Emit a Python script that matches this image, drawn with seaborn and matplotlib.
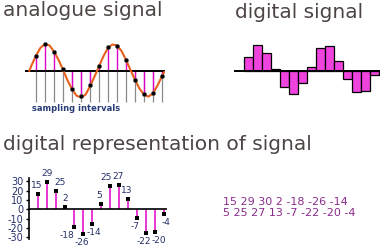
import matplotlib
matplotlib.use("Agg")
import matplotlib.pyplot as plt
import seaborn as sns
import numpy as np

# ---------------- data ----------------
sample_index = list(range(15))
# sampled heights of the analogue wave (dots / stems)
sample_values = [16, 29, 20, 2, -19.5, -27, -15.5, 5.5, 25.5, 26.5, 11.5, -9.5, -25, -24, -5.5]
# heights of the digital signal bars
bar_values = [15.5, 29, 20, 2, -18.5, -26, -14, 4, 25.5, 28, 11, -9.5, -24, -22, -4]
# labels written next to the stems
stem_labels = [15, 29, 25, 2, -18, -26, -14, 5, 25, 27, 13, -7, -22, -20, -4]
# code list printed on the right
code_values = [15, 29, 30, 2, -18, -26, -14, 5, 25, 27, 13, -7, -22, -20, -4]
# analogue curve (position in sample units, height)
curve_t = [-0.75, -0.5, 0, 0.5, 1, 1.5, 2, 2.5, 3, 3.5, 4, 4.5, 5, 5.5, 6, 6.5,
           7, 7.5, 8, 8.5, 9, 9.5, 10, 10.5, 11, 11.5, 12, 12.5, 13, 13.5, 14, 14.25]
curve_y = [0, 6, 16.5, 25, 29, 27.5, 21, 12, 1.5, -10, -19.5, -26.5, -28.5, -25.5, -16.5, -6,
           5, 16, 25, 28.5, 27.5, 21.5, 12, 1, -9.5, -19, -25.5, -27.5, -24, -15.5, -5.5, -1]
y_ticks = [-30, -20, -10, 0, 10, 20, 30]

# layout: horizontal nudges (pixels) of the stem labels
label_dx_px = [-2, 0, 3.5, 0, -7, -1, 2, -2, -4, -1, -1.6, -2.3, -2.5, 3.5, 1.4]

# ---------------- style ----------------
sns.set_style("white")
plt.rcParams["font.family"] = ["DejaVu Sans"]
plt.rcParams["axes.unicode_minus"] = False

W, H = 388, 249
fig = plt.figure(figsize=(W / 100, H / 100), dpi=100)
fig.patch.set_facecolor("white")


def rect(l, t, w, h):
    return [l / W, 1 - (t + h) / H, w / W, h / H]


TITLE_C = "#4d4444"
MAG = "#e000c8"
NAVY = "#26306a"

fig.text(3 / W, 1 - 16 / H, "analogue signal", fontsize=14.5, color=TITLE_C, va="baseline", ha="left")
fig.text(235 / W, 1 - 18 / H, "digital signal", fontsize=14.5, color=TITLE_C, va="baseline", ha="left")
fig.text(3 / W, 1 - 150 / H, "digital representation of signal", fontsize=14.5, color=TITLE_C,
         va="baseline", ha="left")

# ---------------- analogue panel ----------------
ax1 = fig.add_axes(rect(25, 35, 140, 68))
ax1.axis("off")
ax1.set_xlim(-1.22, 14.33)
ax1.set_ylim(-34.4, 38.7)
ax1.vlines(sample_index, -33, 0, color="#8a8a8a", lw=0.9, zorder=1)
ax1.vlines(sample_index, 0, sample_values, color=MAG, lw=1.0, zorder=2)
ax1.axhline(0, color="black", lw=1.4, zorder=3)
sns.lineplot(x=curve_t, y=curve_y, ax=ax1, color="#e8601c", lw=1.5, sort=False, zorder=4)
sns.scatterplot(x=sample_index, y=sample_values, ax=ax1, color="black", s=9,
                edgecolor="#555555", linewidth=0.3, zorder=5)
fig.text(76 / W, 1 - 108 / H, "sampling intervals", fontsize=6, fontweight="bold",
         color="#283c78", ha="center", va="center")

# ---------------- digital signal panel ----------------
ax2 = fig.add_axes(rect(234, 35, 146, 68))
sns.barplot(x=sample_index, y=bar_values, ax=ax2, color="#ee44dd", saturation=1,
            width=1.0, edgecolor="black", linewidth=0.9)
ax2.axis("off")
ax2.set_xlim(-1.64, 14.58)
ax2.set_ylim(-36, 40.4)
ax2.axhline(0, color="black", lw=1.4, zorder=5)

# ---------------- digital representation panel ----------------
ax3 = fig.add_axes(rect(29, 178.3, 138, 60.3))
ax3.set_xlim(-1.03, 14.3)
ax3.set_ylim(-31.5, 33.3)
for s in ["top", "right", "bottom"]:
    ax3.spines[s].set_visible(False)
ax3.spines["left"].set_color("black")
ax3.spines["left"].set_linewidth(1.2)
ax3.set_xticks([])
ax3.set_yticks(y_ticks)
ax3.tick_params(axis="y", direction="out", length=2.5, width=1, color="black",
                labelsize=7, labelcolor=NAVY, pad=1.5, left=True)
ax3.axhline(0, color="black", lw=1.2, zorder=3)
ax3.vlines(sample_index, 0, sample_values, color=MAG, lw=1.1, zorder=2)
sns.scatterplot(x=sample_index, y=sample_values, ax=ax3, color="black", marker="s", s=6,
                linewidth=0, zorder=4)
for i, v, lab, dx in zip(sample_index, sample_values, stem_labels, label_dx_px):
    dy = 6.1 if v >= 0 else -6.1
    ax3.annotate(str(lab), (i, v), xytext=(dx * 0.72, dy), textcoords="offset points",
                 ha="center", va="center", fontsize=6.5, color=NAVY, annotation_clip=False)

# ---------------- code list ----------------
line1 = " ".join(str(v) for v in code_values[:7])
line2 = " ".join(str(v) for v in code_values[7:])
fig.text(222.7 / W, 1 - 201.7 / H, line1, fontsize=8, color="#8b2b8b", ha="left", va="center")
fig.text(222.7 / W, 1 - 212.7 / H, line2, fontsize=8, color="#8b2b8b", ha="left", va="center")

fig.savefig("out.png", dpi=100, facecolor="white")
